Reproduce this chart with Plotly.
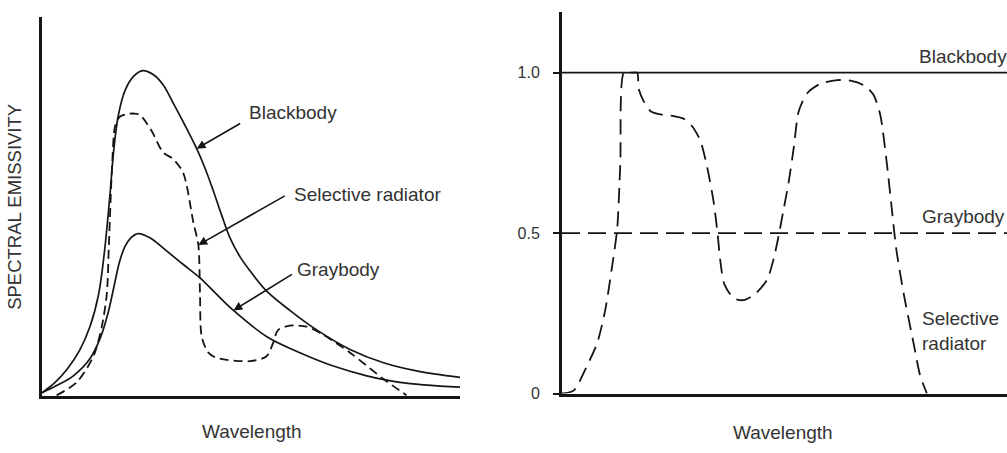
import plotly.graph_objects as go

# ---------------- Left panel: spectral emissive power (arbitrary units) ----------------
bb_wl = [0, 0.30, 0.60, 0.90, 1.15, 1.35, 1.50, 1.62, 1.72, 1.83, 1.99, 2.19, 2.41, 2.66,
         2.90, 3.14, 3.42, 3.70, 3.90, 4.10, 4.30, 4.50, 4.75, 4.98, 5.37, 5.93, 6.57,
         7.37, 8.17, 8.96, 10.0]
bb_val = [0.01, 0.040, 0.082, 0.140, 0.214, 0.310, 0.450, 0.610, 0.760, 0.865, 0.940,
          0.982, 1.0, 0.988, 0.956, 0.900, 0.832, 0.760, 0.700, 0.630, 0.555, 0.485,
          0.425, 0.384, 0.323, 0.263, 0.203, 0.143, 0.102, 0.077, 0.057]

gb_wl = [0, 0.35, 0.75, 1.15, 1.40, 1.58, 1.72, 1.85, 1.98, 2.12, 2.30, 2.58, 2.98, 3.38,
         3.78, 4.18, 4.58, 5.37, 6.17, 6.97, 7.77, 8.56, 10.0]
gb_val = [0.01, 0.032, 0.062, 0.115, 0.180, 0.255, 0.335, 0.410, 0.458, 0.485, 0.499,
          0.486, 0.446, 0.404, 0.363, 0.312, 0.263, 0.183, 0.133, 0.092, 0.062, 0.042,
          0.027]

sr_wl = [0.35, 0.83, 1.23, 1.43, 1.55, 1.60, 1.68, 1.75, 1.86, 2.03, 2.19, 2.34, 2.62,
         2.90, 3.14, 3.38, 3.62, 3.74, 3.78, 3.82, 3.98, 4.18, 4.98, 5.37, 5.53, 5.65,
         5.93, 6.33, 6.73, 7.37, 8.17, 8.72]
sr_val = [0.002, 0.042, 0.122, 0.213, 0.313, 0.464, 0.715, 0.830, 0.858, 0.866, 0.868,
          0.864, 0.815, 0.748, 0.728, 0.685, 0.534, 0.464, 0.313, 0.183, 0.133, 0.117,
          0.107, 0.122, 0.163, 0.203, 0.216, 0.213, 0.188, 0.133, 0.052, 0.002]

# ---------------- Right panel: spectral emissivity ----------------
em_wl = [0, 10]
em_black = [1.0, 1.0]
em_gray = [0.5, 0.5]

sel_wl = [0, 0.26, 0.56, 0.79, 0.97, 1.12, 1.24, 1.31, 1.39, 1.54, 1.69, 1.72, 1.84, 1.99,
          2.21, 2.51, 2.73, 2.92, 3.11, 3.26, 3.41, 3.50, 3.56, 3.65, 3.86, 4.08, 4.34,
          4.61, 4.76, 4.87, 4.98, 5.09, 5.21, 5.32, 5.51, 5.81, 6.18, 6.48, 6.78, 7.00,
          7.15, 7.30, 7.42, 7.51, 7.68, 7.90, 8.05, 8.20]
sel_em = [0.0, 0.009, 0.086, 0.157, 0.259, 0.391, 0.513, 0.717, 1.0, 1.0, 1.0, 0.951,
          0.910, 0.880, 0.870, 0.865, 0.857, 0.834, 0.788, 0.707, 0.595, 0.493, 0.411,
          0.340, 0.297, 0.291, 0.310, 0.355, 0.422, 0.493, 0.574, 0.656, 0.768, 0.880,
          0.936, 0.966, 0.977, 0.975, 0.961, 0.931, 0.870, 0.717, 0.564, 0.452, 0.310,
          0.157, 0.055, 0.0]

em_ticks = [0, 0.5, 1.0]
em_ticktext = ["0", "0.5", "1.0"]

INK = "#151515"
TXT = "#333333"
FONT = "Liberation Sans, Arial, Helvetica, sans-serif"

fig = go.Figure()

fig.add_trace(go.Scatter(x=bb_wl, y=bb_val, mode="lines", name="Blackbody",
                         line=dict(color=INK, width=1.7, shape="spline", smoothing=1.0),
                         xaxis="x", yaxis="y"))
fig.add_trace(go.Scatter(x=gb_wl, y=gb_val, mode="lines", name="Graybody",
                         line=dict(color=INK, width=1.7, shape="spline", smoothing=1.0),
                         xaxis="x", yaxis="y"))
fig.add_trace(go.Scatter(x=sr_wl, y=sr_val, mode="lines", name="Selective radiator",
                         line=dict(color=INK, width=1.8, dash="9px,5px", shape="spline",
                                   smoothing=0.8),
                         xaxis="x", yaxis="y"))

fig.add_trace(go.Scatter(x=em_wl, y=em_black, mode="lines", name="Blackbody",
                         line=dict(color=INK, width=1.7), xaxis="x2", yaxis="y2"))
fig.add_trace(go.Scatter(x=em_wl, y=em_gray, mode="lines", name="Graybody",
                         line=dict(color=INK, width=1.7, dash="18px,8px"),
                         xaxis="x2", yaxis="y2"))
fig.add_trace(go.Scatter(x=sel_wl, y=sel_em, mode="lines", name="Selective radiator",
                         line=dict(color=INK, width=1.8, dash="15px,8px", shape="spline",
                                   smoothing=0.7),
                         xaxis="x2", yaxis="y2"))

W, H = 1007, 453


def px(x):
    return x / W


def py(y):
    return (H - y) / H


axis_common = dict(showgrid=False, zeroline=False, showline=True, linewidth=3,
                   linecolor=INK, mirror=False, fixedrange=True)

fig.update_layout(
    width=W, height=H,
    margin=dict(l=0, r=0, t=0, b=0),
    paper_bgcolor="white", plot_bgcolor="white",
    showlegend=False,
    font=dict(family=FONT, color=TXT, size=19),
    xaxis=dict(domain=[px(42), px(460)], range=[0, 10], showticklabels=False, ticks="",
               anchor="y", **axis_common),
    yaxis=dict(domain=[py(404), py(17)], range=[0, 387 / 332], showticklabels=False,
               ticks="", anchor="x", **axis_common),
    xaxis2=dict(domain=[px(562), 1.0], range=[0, 10], showticklabels=False, ticks="",
                anchor="y2", **axis_common),
    yaxis2=dict(domain=[py(401.5), py(12)], range=[0, 1.19], anchor="x2",
                tickvals=em_ticks, ticktext=em_ticktext, ticks="outside", ticklen=6,
                tickwidth=1.5, tickcolor=INK, ticklabelstandoff=10,
                tickfont=dict(family=FONT, size=16, color=TXT), **axis_common),
)

ann = []
# left-panel labels
ann.append(dict(text="Blackbody", xref="paper", yref="paper", x=px(247), y=py(115),
                xanchor="left", yanchor="middle", showarrow=False))
ann.append(dict(text="Selective radiator", xref="paper", yref="paper", x=px(292), y=py(198),
                xanchor="left", yanchor="middle", showarrow=False))
ann.append(dict(text="Graybody", xref="paper", yref="paper", x=px(295), y=py(275),
                xanchor="left", yanchor="middle", showarrow=False))
# arrows pointing to the curves
arrow_style = dict(text="", showarrow=True, arrowhead=2, arrowsize=1.1, arrowwidth=1.6,
                   arrowcolor=INK, standoff=0, xref="x", yref="y")
ann.append(dict(x=bb_wl[17], y=bb_val[17], ax=45, ay=-26, **arrow_style))
ann.append(dict(x=sr_wl[17], y=sr_val[17], ax=88, ay=-50, **arrow_style))
ann.append(dict(x=gb_wl[16], y=gb_val[16], ax=60, ay=-37, **arrow_style))
# axis titles
ann.append(dict(text="SPECTRAL EMISSIVITY", xref="paper", yref="paper", x=px(15), y=py(211),
                textangle=-90, xanchor="center", yanchor="middle", showarrow=False,
                font=dict(size=18.5)))
ann.append(dict(text="Wavelength", xref="paper", yref="paper", x=px(252), y=py(440),
                xanchor="center", yanchor="middle", showarrow=False))
ann.append(dict(text="Wavelength", xref="paper", yref="paper", x=px(783), y=py(441),
                xanchor="center", yanchor="middle", showarrow=False))
# right-panel labels
ann.append(dict(text="Blackbody", xref="paper", yref="paper", x=px(917), y=py(58),
                xanchor="left", yanchor="middle", showarrow=False))
ann.append(dict(text="Graybody", xref="paper", yref="paper", x=px(920), y=py(221),
                xanchor="left", yanchor="middle", showarrow=False))
ann.append(dict(text="Selective<br>radiator", xref="paper", yref="paper", x=px(920),
                y=py(338), xanchor="left", yanchor="middle", align="left", showarrow=False))

fig.update_layout(annotations=ann)

fig.write_html("out.html")
